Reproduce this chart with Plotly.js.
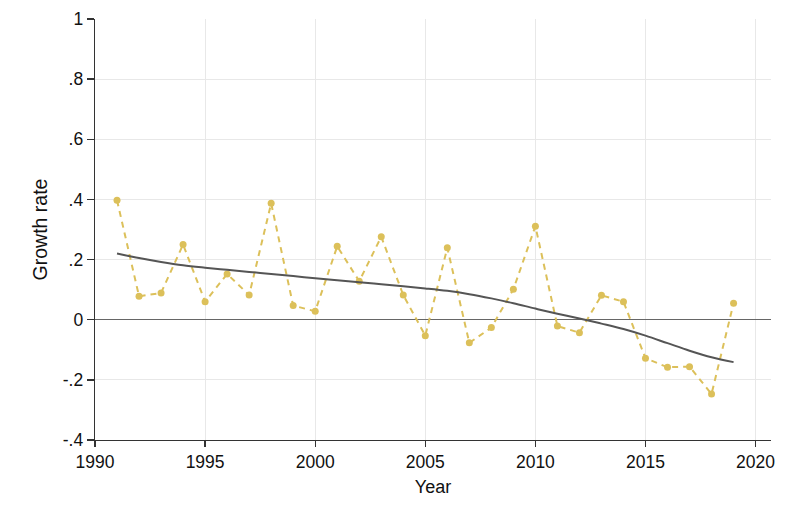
<!DOCTYPE html>
<html>
<head>
<meta charset="utf-8">
<script src="https://cdn.plot.ly/plotly-3.0.1.min.js"></script>
<style>html,body{margin:0;padding:0;background:#fff;}#chart{width:789px;height:526px;}</style>
</head>
<body>
<div id="chart"></div>
<script>
const years = [1991,1992,1993,1994,1995,1996,1997,1998,1999,2000,2001,2002,2003,2004,2005,2006,2007,2008,2009,2010,2011,2012,2013,2014,2015,2016,2017,2018,2019];
const growth = [0.397,0.078,0.089,0.250,0.060,0.152,0.082,0.387,0.047,0.028,0.244,0.128,0.276,0.082,-0.053,0.239,-0.077,-0.026,0.101,0.311,-0.021,-0.043,0.081,0.060,-0.128,-0.158,-0.156,-0.247,0.055];
const smooth = [0.220,0.205,0.192,0.181,0.173,0.166,0.159,0.152,0.145,0.138,0.131,0.125,0.118,0.111,0.104,0.096,0.085,0.071,0.055,0.037,0.020,0.004,-0.013,-0.031,-0.053,-0.078,-0.103,-0.125,-0.141];
const xTicks = [1990,1995,2000,2005,2010,2015,2020];
const yTicks = [-0.4,-0.2,0,0.2,0.4,0.6,0.8,1];
const yTickText = ['-.4','-.2','0','.2','.4','.6','.8','1'];

const traces = [
  {x: years, y: growth, type:'scatter', mode:'lines+markers',
   line:{color:'#dcc05a', width:2, dash:'6px,5px'},
   marker:{color:'#dcc05a', size:7}, hoverinfo:'skip'},
  {x: years, y: smooth, type:'scatter', mode:'lines',
   line:{color:'#555555', width:2, shape:'spline'}, hoverinfo:'skip'}
];
const layout = {
  width:789, height:526,
  margin:{l:95, r:18, t:19, b:86},
  paper_bgcolor:'#fff', plot_bgcolor:'#fff',
  showlegend:false,
  font:{family:'Liberation Sans, Arial, sans-serif', size:17.5, color:'#111'},
  xaxis:{range:[1990,2020.7], tickvals:xTicks, ticktext:xTicks.map(String),
    showgrid:true, gridcolor:'#e8e8e8', gridwidth:1,
    showline:true, linecolor:'#333', linewidth:1.3,
    ticks:'outside', ticklen:6, tickcolor:'#333', tickwidth:1.3,
    zeroline:false, tickfont:{size:17.5},
    title:{text:'Year', font:{size:18}, standoff:9}},
  yaxis:{range:[-0.4,1], tickvals:yTicks, ticktext:yTickText,
    showgrid:true, gridcolor:'#e8e8e8', gridwidth:1,
    showline:true, linecolor:'#333', linewidth:1.3,
    ticks:'outside', ticklen:7, tickcolor:'#333', tickwidth:1.3,
    zeroline:true, zerolinecolor:'#666', zerolinewidth:1.3,
    tickfont:{size:17.5},
    title:{text:'Growth rate', font:{size:19.5}, standoff:10}}
};
Plotly.newPlot('chart', traces, layout, {staticPlot:true, displayModeBar:false});
</script>
</body>
</html>
